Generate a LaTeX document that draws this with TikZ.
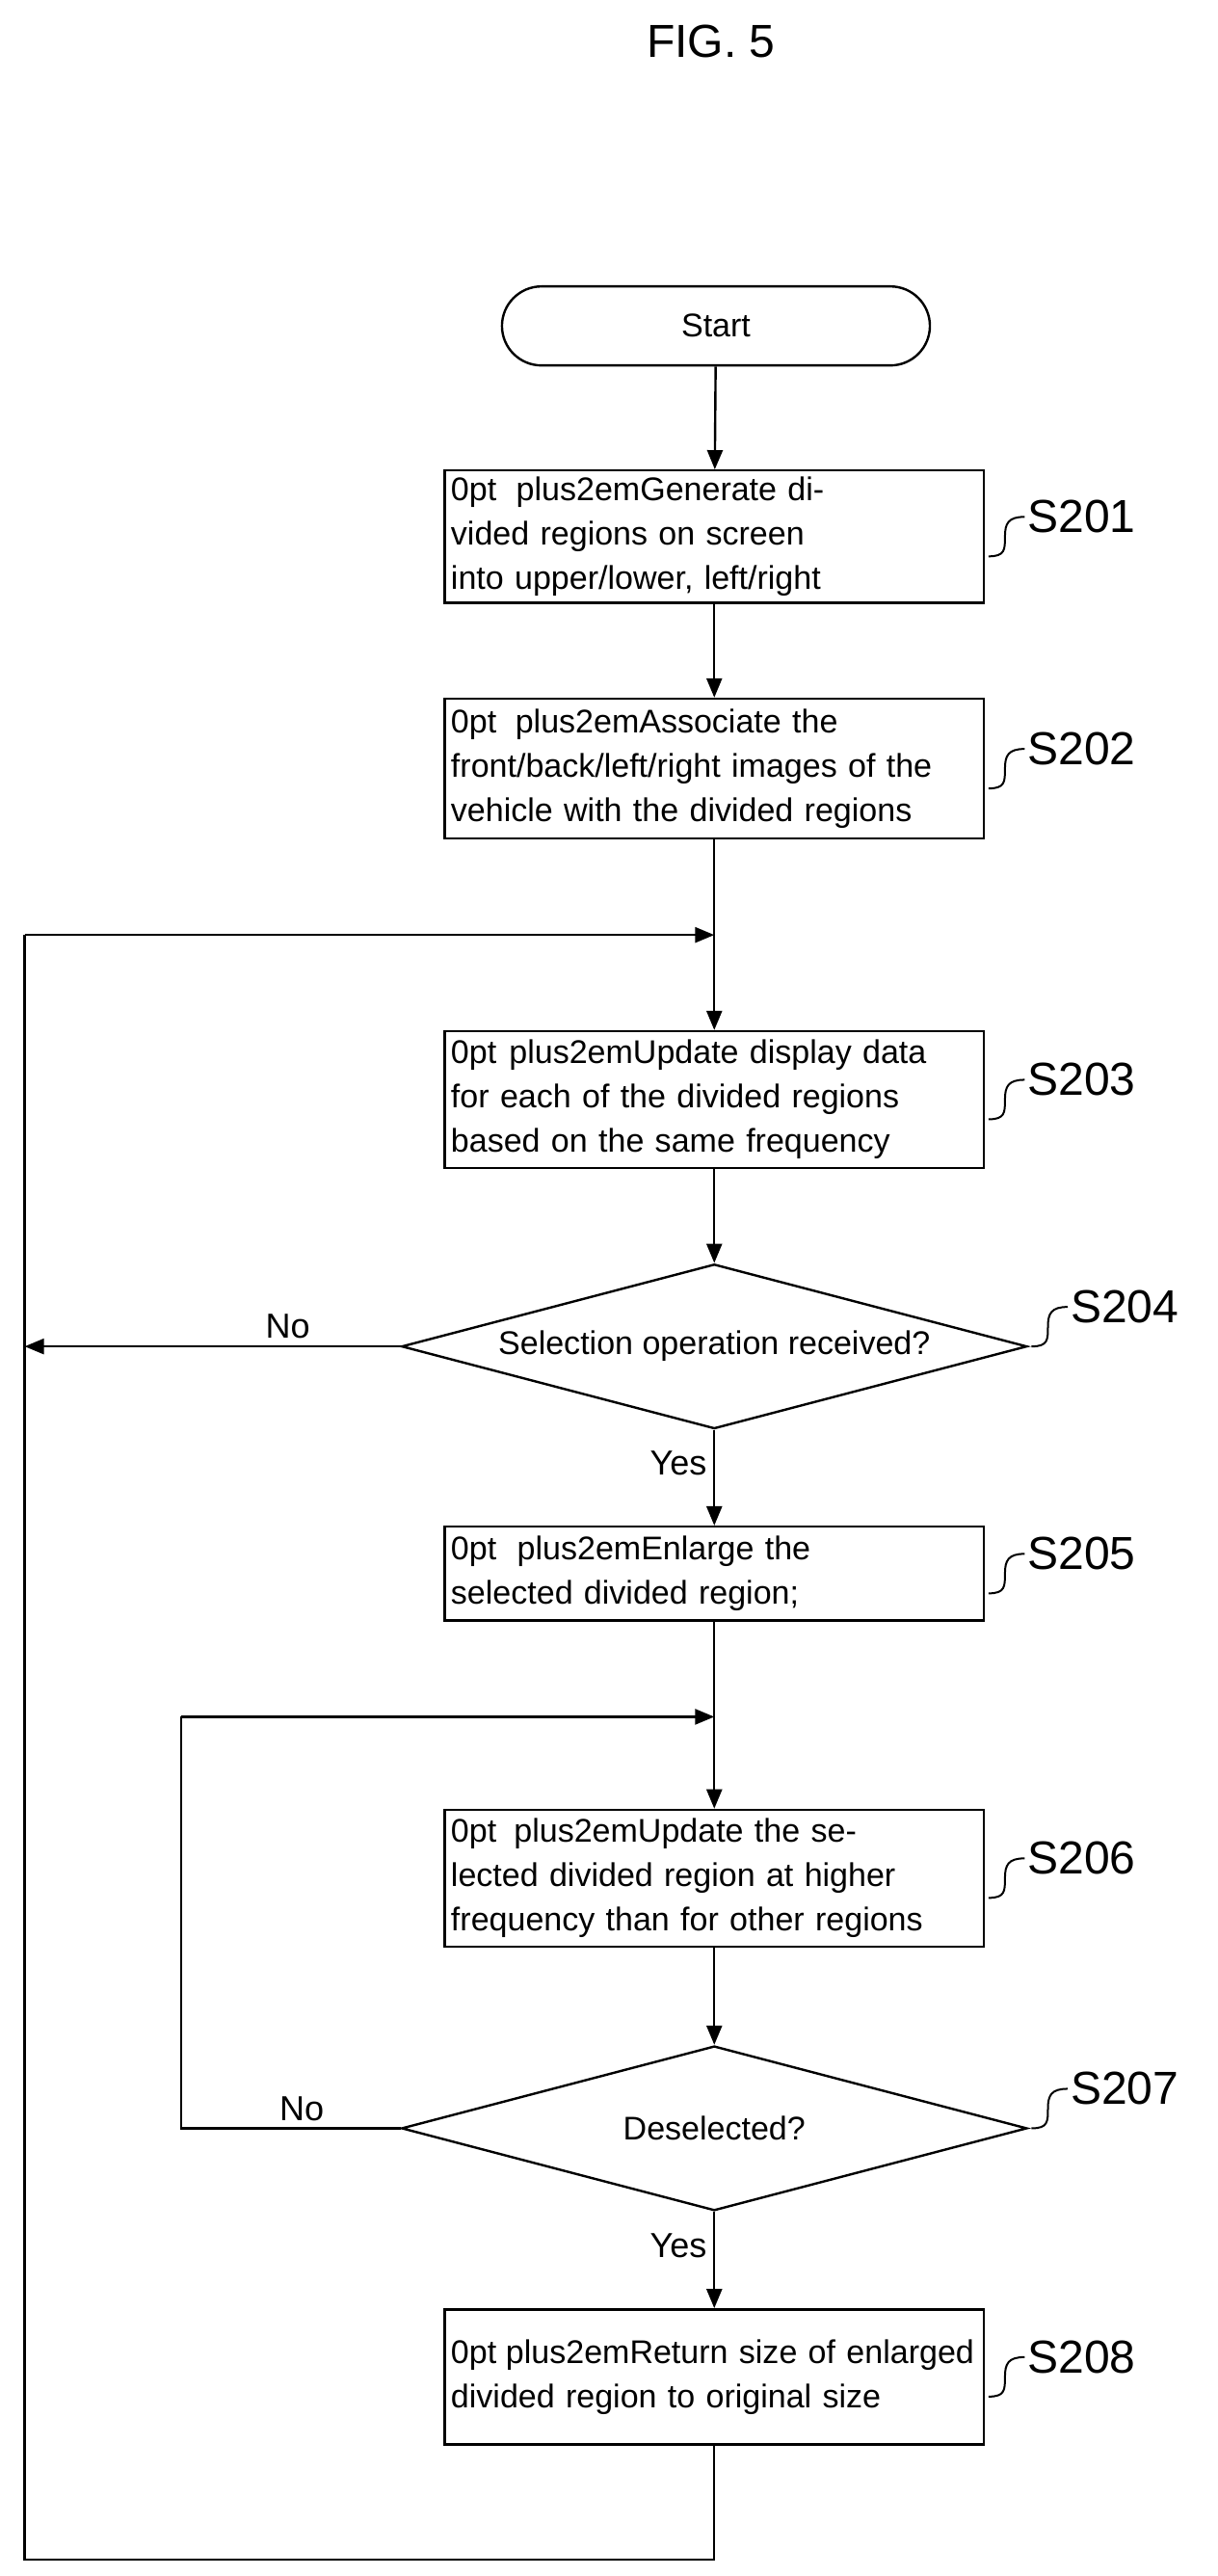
\documentclass[tikz,border=0pt]{standalone}
\usepackage{fontspec}
\setmainfont{Liberation Sans}
\usetikzlibrary{arrows.meta,shapes.geometric}
\tikzset{
  box/.style={draw,line width=1.2pt,minimum width=9.75cm,text width=9.6cm,align=center,font=\fontsize{17}{23}\selectfont\hyphenpenalty=10000},
  term/.style={draw,line width=1.2pt,rounded corners=0.72cm,minimum width=7.8cm,minimum height=1.44cm,font=\fontsize{17}{23}\selectfont},
  test/.style={draw,line width=1.2pt,diamond,aspect=3.8,minimum width=11.4cm,minimum height=3cm,inner sep=0pt,font=\fontsize{17}{23}\selectfont},
  tag/.style={font=\fontsize{24}{28}\selectfont,anchor=west,inner sep=1pt},
  lbl/.style={font=\fontsize{18}{22}\selectfont},
  flow/.style={line width=1.2pt,-{Triangle[length=10pt,width=8pt]}},
  plain/.style={line width=1.2pt}
}
\newcommand{\squig}[3]{\draw[line width=1pt] (#1) ++(2,#3) .. controls +(10,0) and +(0,8) .. ++(10,-12) .. controls +(0,-8) and +(-10,0) .. ++(12,-12) node[tag] {#2};}
\begin{document}
\begin{tikzpicture}[x=0.03cm,y=-0.03cm]
\useasboundingbox (0,0) rectangle (740,1565);
\node[font=\fontsize{24}{28}\selectfont] (title) at (432,25) {FIG. 5};
\node[term] (start) at (435,198) {Start};
\node[box,minimum height=2.34cm] (s201) at (434,326) {Generate divided regions on screen into upper/lower, left/right};
\node[box,minimum height=2.55cm] (s202) at (434,467) {Associate the front/back/left/right images of the vehicle with the divided regions};
\node[box,minimum height=2.49cm] (s203) at (434,668) {Update display data for each of the divided regions based on the same frequency};
\node[test] (s204) at (434,818) {Selection operation received?};
\node[box,minimum height=1.71cm] (s205) at (434,956) {Enlarge the selected divided region;};
\node[box,minimum height=2.49cm] (s206) at (434,1141) {Update the selected divided region at higher frequency than for other regions};
\node[test] (s207) at (434,1293) {Deselected?};
\node[box,minimum height=2.46cm] (s208) at (434,1444) {Return size of enlarged divided region to original size};
\coordinate (loopa) at (434,568);
\coordinate (loopb) at (434,1043);
% step tags
\squig{s201.east}{S201}{12}
\squig{s202.east}{S202}{12}
\squig{s203.east}{S203}{12}
\squig{s204.east}{S204}{0}
\squig{s205.east}{S205}{12}
\squig{s206.east}{S206}{12}
\squig{s207.east}{S207}{0}
\squig{s208.east}{S208}{12}
% main flow
\draw[flow] (start) -- (s201);
\draw[flow] (s201) -- (s202);
\draw[flow] (s202) -- (s203);
\draw[flow] (s203) -- (s204);
\draw[flow] (s204) -- node[lbl,pos=0.35,left] {Yes} (s205);
\draw[flow] (s205) -- (s206);
\draw[flow] (s206) -- (s207);
\draw[flow] (s207) -- node[lbl,pos=0.35,left] {Yes} (s208);
% loops
\draw[flow] (s204.west) -- node[lbl,above,pos=0.3] {No} (15,818);
\draw[plain] (s208.south) |- (15,1555) -- (15,568);
\draw[flow] (15,568) -- (loopa);
\draw[plain] (s207.west) -- node[lbl,above,pos=0.45] {No} (110,1293) -- (110,1043);
\draw[flow] (110,1043) -- (loopb);
\end{tikzpicture}
\end{document}
